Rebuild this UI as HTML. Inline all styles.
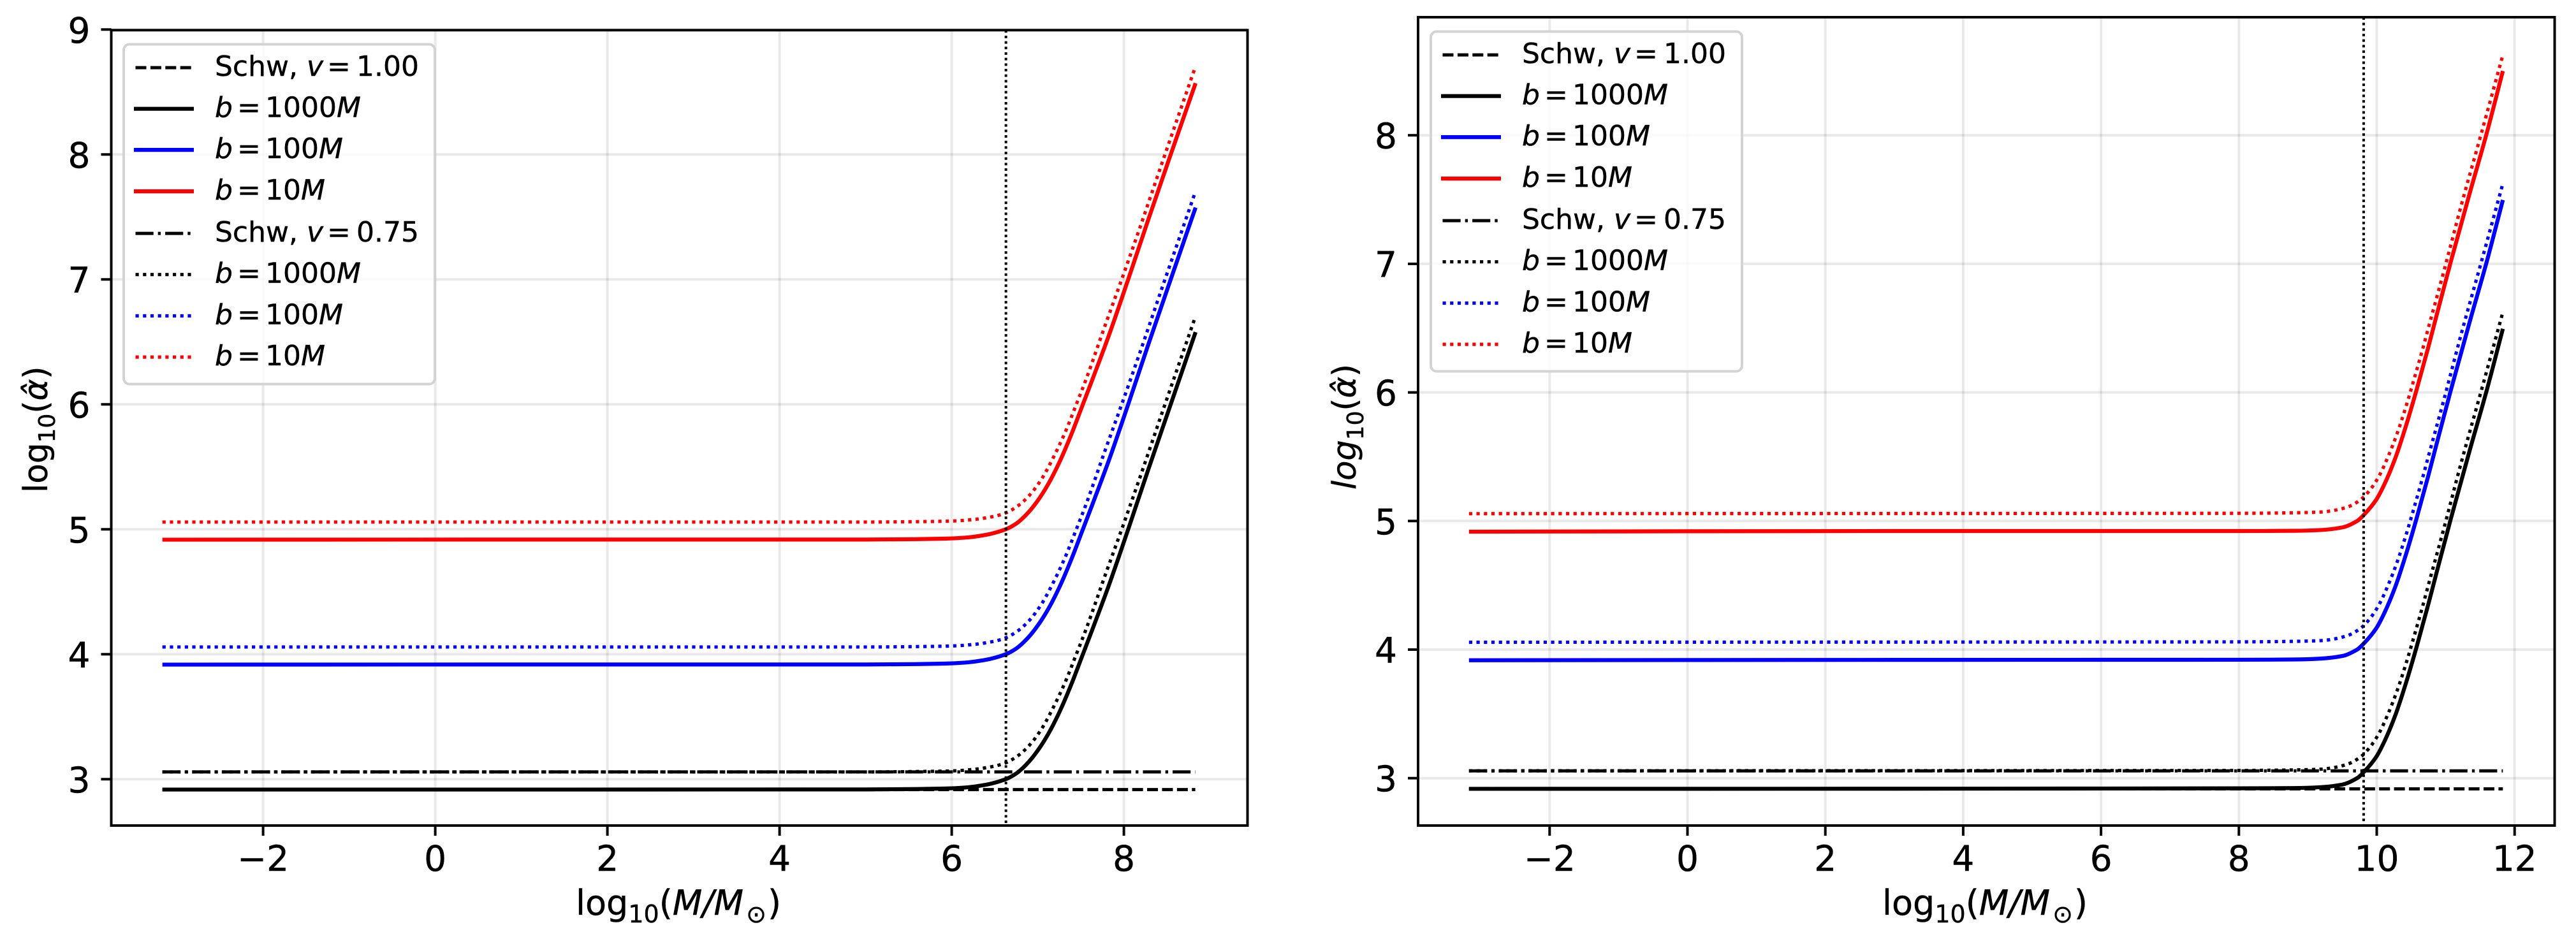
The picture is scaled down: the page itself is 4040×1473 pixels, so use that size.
<!DOCTYPE html>
<html lang="en">
<head>
<meta charset="utf-8">
<title>Deflection angle vs mass</title>
<style>
html,body{margin:0;padding:0;background:#fff;}
svg{display:block;}
text{font-family:"DejaVu Sans","Liberation Sans",sans-serif;fill:#000;stroke:#000;stroke-width:0.45px;}
.it{font-style:italic;}
</style>
</head>
<body>
<svg id="figure" xmlns="http://www.w3.org/2000/svg" width="4040" height="1473" viewBox="0 0 4040 1473">
<rect x="0" y="0" width="4040" height="1473" fill="#fff"/>
<g id="panel-left"></g>
<g id="panel-right"></g>

<text x="903" y="1435" font-size="54">log<tspan font-size="38" dy="12">10</tspan><tspan dy="-12">(</tspan><tspan class="it">M/M</tspan><tspan font-size="38" dy="12" dx="4">⊙</tspan><tspan dy="-12" dx="2">)</tspan></text>
<text x="2952" y="1435" font-size="54">log<tspan font-size="38" dy="12">10</tspan><tspan dy="-12">(</tspan><tspan class="it">M/M</tspan><tspan font-size="38" dy="12" dx="4">⊙</tspan><tspan dy="-12" dx="2">)</tspan></text>
<text transform="translate(74 773) rotate(-90)" font-size="51.5">log<tspan font-size="36" dy="12">10</tspan><tspan dy="-12">(</tspan><tspan class="it">α̂</tspan><tspan>)</tspan></text>
<text transform="translate(2126 768) rotate(-90)" font-size="51"><tspan class="it">log</tspan><tspan font-size="36" dy="12">10</tspan><tspan dy="-12">(</tspan><tspan class="it">α̂</tspan><tspan>)</tspan></text>
</svg>

<script>
// ---------- left panel data ----------
const leftMassSolid = [-3.17, 1, 5, 5.6, 5.91, 6.15, 6.4, 6.62, 6.75, 6.89, 7.02, 7.14, 7.26, 7.39, 7.51, 7.635, 7.83, 8.055, 8.277, 8.524, 8.833];
const leftB1000Solid = [2.917, 2.917, 2.918, 2.921, 2.925, 2.933, 2.956, 2.998, 3.046, 3.135, 3.25, 3.385, 3.55, 3.76, 3.975, 4.2, 4.56, 5.01, 5.465, 5.96, 6.578];
const leftB100Solid = [3.917, 3.918, 3.918, 3.921, 3.925, 3.933, 3.956, 3.998, 4.046, 4.135, 4.25, 4.385, 4.55, 4.76, 4.975, 5.2, 5.56, 6.01, 6.465, 6.96, 7.575];
const leftB10Solid = [4.917, 4.918, 4.918, 4.921, 4.925, 4.933, 4.956, 4.998, 5.046, 5.135, 5.25, 5.385, 5.55, 5.76, 5.975, 6.2, 6.56, 7.01, 7.465, 7.96, 8.57];

const leftMassDotted = [-3.17, 5, 5.7, 6.0, 6.277, 6.5, 6.623, 6.758, 6.894, 7.042, 7.166, 7.314, 7.442, 7.566, 7.771, 7.975, 8.179, 8.455, 8.83];
const leftB1000Dotted = [3.058, 3.058, 3.062, 3.066, 3.08, 3.105, 3.13, 3.182, 3.265, 3.4, 3.555, 3.77, 3.99, 4.21, 4.61, 5.0, 5.4, 5.955, 6.7];
const leftB100Dotted = [4.058, 4.058, 4.062, 4.066, 4.08, 4.105, 4.13, 4.182, 4.265, 4.4, 4.555, 4.77, 4.99, 5.21, 5.61, 6.0, 6.4, 6.955, 7.7];
const leftB10Dotted = [5.058, 5.058, 5.062, 5.066, 5.08, 5.105, 5.13, 5.182, 5.265, 5.4, 5.555, 5.77, 5.99, 6.21, 6.61, 7.0, 7.4, 7.955, 8.7];

const leftSchwMass = [-3.17, 8.83];
const leftSchwV100 = [2.917, 2.917];
const leftSchwV075 = [3.058, 3.058];
const leftMarkerMass = [6.63];
const leftXTicks = [-2, 0, 2, 4, 6, 8];
const leftYTicks = [3, 4, 5, 6, 7, 8, 9];

// ---------- right panel data ----------
const rightMassSolid = [-3.17, 3, 8, 8.8, 9.19, 9.5, 9.715, 9.822, 9.992, 10.115, 10.27, 10.424, 10.578, 10.747, 10.856, 11.071, 11.349, 11.595, 11.83];
const rightB1000Solid = [2.917, 2.918, 2.921, 2.923, 2.93, 2.95, 3.0, 3.053, 3.165, 3.29, 3.49, 3.74, 4.02, 4.35, 4.574, 5.01, 5.55, 6.015, 6.495];
const rightB100Solid = [3.917, 3.92, 3.921, 3.923, 3.93, 3.95, 4.0, 4.053, 4.165, 4.29, 4.49, 4.74, 5.02, 5.35, 5.574, 6.01, 6.55, 7.015, 7.497];
const rightB10Solid = [4.917, 4.922, 4.922, 4.924, 4.93, 4.95, 5.0, 5.053, 5.165, 5.29, 5.49, 5.74, 6.02, 6.35, 6.574, 7.01, 7.55, 8.015, 8.5];

const rightMassDotted = [-3.17, 8, 8.8, 9.2, 9.375, 9.591, 9.776, 9.921, 10.039, 10.172, 10.292, 10.424, 10.548, 10.67, 10.748, 10.98, 11.226, 11.52, 11.83];
const rightB1000Dotted = [3.057, 3.06, 3.064, 3.07, 3.082, 3.112, 3.17, 3.255, 3.355, 3.51, 3.675, 3.89, 4.115, 4.345, 4.5, 4.955, 5.455, 6.02, 6.625];
const rightB100Dotted = [4.057, 4.06, 4.064, 4.07, 4.082, 4.112, 4.17, 4.255, 4.355, 4.51, 4.675, 4.89, 5.115, 5.345, 5.5, 5.955, 6.455, 7.02, 7.625];
const rightB10Dotted = [5.057, 5.06, 5.064, 5.07, 5.082, 5.112, 5.17, 5.255, 5.355, 5.51, 5.675, 5.89, 6.115, 6.345, 6.5, 6.955, 7.455, 8.02, 8.625];

const rightSchwMass = [-3.17, 11.83];
const rightSchwV100 = [2.917, 2.917];
const rightSchwV075 = [3.057, 3.057];
const rightMarkerMass = [9.81];
const rightXTicks = [-2, 0, 2, 4, 6, 8, 10, 12];
const rightYTicks = [3, 4, 5, 6, 7, 8];

// ---------- legend text ----------
const legendLabels = ["Schw|1.00", "1000", "100", "10", "Schw|0.75", "1000", "100", "10"];

// ---------- drawing ----------
const NS = "http://www.w3.org/2000/svg";
const STYLE = {
  solid: {w: 6.2, dash: null},
  dashed: {w: 5, dash: "17 6.4"},
  dashdot: {w: 5, dash: "28.2 7 4.4 7"},
  dotted: {w: 5.2, dash: "5.2 6.5"}
};

function make(tag, parent, attrs, text) {
  const el = document.createElementNS(NS, tag);
  for (const k in attrs) el.setAttribute(k, attrs[k]);
  if (text !== undefined) el.textContent = text;
  parent.appendChild(el);
  return el;
}

function curvePath(xs, ys) {
  const n = xs.length;
  if (n === 2) return "M" + xs[0] + " " + ys[0] + "L" + xs[1] + " " + ys[1];
  const h = [], s = [], m = [];
  for (let i = 0; i < n - 1; i++) {
    h.push(xs[i + 1] - xs[i]);
    s.push((ys[i + 1] - ys[i]) / h[i]);
  }
  m[0] = s[0];
  m[n - 1] = s[n - 2];
  for (let i = 1; i < n - 1; i++) {
    m[i] = s[i - 1] * s[i] > 0 ? 2 * s[i - 1] * s[i] / (s[i - 1] + s[i]) : 0;
  }
  let d = "M" + xs[0].toFixed(2) + " " + ys[0].toFixed(2);
  for (let i = 0; i < n - 1; i++) {
    const c = h[i] / 3;
    d += "C" + (xs[i] + c).toFixed(2) + " " + (ys[i] + m[i] * c).toFixed(2) + " " +
         (xs[i + 1] - c).toFixed(2) + " " + (ys[i + 1] - m[i + 1] * c).toFixed(2) + " " +
         xs[i + 1].toFixed(2) + " " + ys[i + 1].toFixed(2);
  }
  return d;
}

function drawPanel(p) {
  const root = document.getElementById(p.id);
  const px = p.xAxis, py = p.yAxis;

  // grid
  p.xTicks.forEach(function (v) {
    const g = make("line", root, {x1: px(v), x2: px(v), y1: p.top, y2: p.bottom, stroke: "#000", "stroke-opacity": 0.085, "stroke-width": 4});
    
    
  });
  p.yTicks.forEach(function (v) {
    const g = make("line", root, {x1: p.left, x2: p.right, y1: py(v), y2: py(v), stroke: "#000", "stroke-opacity": 0.085, "stroke-width": 4});
    
    
  });

  // series
  p.series.forEach(function (s) {
    const st = STYLE[s.style];
    const attrs = {d: curvePath(s.x.map(px), s.y.map(py)), fill: "none", stroke: s.color, "stroke-width": st.w, "stroke-linejoin": "round"};
    if (st.dash) attrs["stroke-dasharray"] = st.dash;
    const path = make("path", root, attrs);
    
    
  });

  // vertical marker
  const vx = px(p.marker[0]);
  const vline = make("line", root, {x1: vx, x2: vx, y1: p.top, y2: p.bottom, stroke: "#000", "stroke-width": 4, "stroke-dasharray": "4 4.67"});
  
  

  // spines
  const frame = make("rect", root, {x: p.left, y: p.top, width: p.right - p.left, height: p.bottom - p.top, fill: "none", stroke: "#000", "stroke-width": 4});
  
  

  // x ticks
  p.xTicks.forEach(function (v) {
    const t = make("line", root, {x1: px(v), x2: px(v), y1: p.bottom, y2: p.bottom + 16, stroke: "#000", "stroke-width": 4});
    
    
    const label = make("text", root, {x: px(v), y: 1366, "font-size": 55, "text-anchor": "middle"}, String(v).replace("-", "\u2212"));
    
    
  });
  // y ticks
  p.yTicks.forEach(function (v) {
    const t = make("line", root, {x1: p.left - 16, x2: p.left, y1: py(v), y2: py(v), stroke: "#000", "stroke-width": 4});
    
    
    const label = make("text", root, {x: p.left - 33, y: py(v) + 20.5, "font-size": 55, "text-anchor": "end"}, String(v));
    
    
  });

  // legend
  const lg = make("g", root, {});
  
  
  const box = make("rect", lg, {x: p.legX, y: p.legY, width: 488, height: p.legH, rx: 9, ry: 9, fill: "#fff", "fill-opacity": 0.8, stroke: "#d3d3d3", "stroke-width": 4});
  
  
  const rowOffsets = [36.6, 101.2, 165.6, 230.6, 296.6, 361.2, 426, 490.6];
  const rowStyles = ["dashed", "solid", "solid", "solid", "dashdot", "dotted", "dotted", "dotted"];
  const rowColors = ["#000", "#000", "#00f", "#f00", "#000", "#000", "#00f", "#f00"];
  legendLabels.forEach(function (lab, i) {
    const y = p.legY + rowOffsets[i];
    const st = STYLE[rowStyles[i]];
    const hAttrs = {x1: p.legX + 18.5, x2: p.legX + 107, y1: y, y2: y, stroke: rowColors[i], "stroke-width": st.w};
    if (st.dash) hAttrs["stroke-dasharray"] = st.dash;
    if (rowStyles[i] === "solid") { hAttrs.x1 = p.legX + 16; hAttrs.x2 = p.legX + 110; }
    const handle = make("line", lg, hAttrs);
    
    

    const tx = p.legX + 143;
    const text = make("text", lg, {x: tx, y: y + 13, "font-size": 44});
    
    
    if (lab.indexOf("Schw") === 0) {
      const value = lab.split("|")[1];
      make("tspan", text, {}, "Schw,");
      make("tspan", text, {"class": "it", x: tx + 144}, "v");
      make("tspan", text, {x: tx + 176}, "=");
      make("tspan", text, {x: tx + 222}, value);
    } else {
      make("tspan", text, {"class": "it"}, "b");
      make("tspan", text, {x: tx + 35}, "=");
      make("tspan", text, {x: tx + 79}, lab);
      make("tspan", text, {"class": "it"}, "M");
    }
  });
}

drawPanel({
  id: "panel-left", prefix: "left",
  left: 174.5, right: 1956.5, top: 47.3, bottom: 1295,
  legX: 194, legY: 69.5, legH: 533,
  xAxis: function (v) { return 682.6 + 135 * v; },
  yAxis: function (v) { return 1222.3 - 196 * (v - 3); },
  xTicks: leftXTicks, yTicks: leftYTicks, marker: leftMarkerMass,
  series: [
    {name: "schw-v100-line", x: leftSchwMass, y: leftSchwV100, color: "#000", style: "dashed"},
    {name: "b1000-solid-line", x: leftMassSolid, y: leftB1000Solid, color: "#000", style: "solid"},
    {name: "b100-solid-line", x: leftMassSolid, y: leftB100Solid, color: "#00f", style: "solid"},
    {name: "b10-solid-line", x: leftMassSolid, y: leftB10Solid, color: "#f00", style: "solid"},
    {name: "schw-v075-line", x: leftSchwMass, y: leftSchwV075, color: "#000", style: "dashdot"},
    {name: "b1000-dotted-line", x: leftMassDotted, y: leftB1000Dotted, color: "#000", style: "dotted"},
    {name: "b100-dotted-line", x: leftMassDotted, y: leftB100Dotted, color: "#00f", style: "dotted"},
    {name: "b10-dotted-line", x: leftMassDotted, y: leftB10Dotted, color: "#f00", style: "dotted"}
  ]
});

drawPanel({
  id: "panel-right", prefix: "right",
  left: 2224, right: 4006.5, top: 27, bottom: 1295,
  legX: 2244, legY: 49.5, legH: 533,
  xAxis: function (v) { return 2646.5 + 108.1 * v; },
  yAxis: function (v) { return 1220.7 - 201.7 * (v - 3); },
  xTicks: rightXTicks, yTicks: rightYTicks, marker: rightMarkerMass,
  series: [
    {name: "schw-v100-line", x: rightSchwMass, y: rightSchwV100, color: "#000", style: "dashed"},
    {name: "b1000-solid-line", x: rightMassSolid, y: rightB1000Solid, color: "#000", style: "solid"},
    {name: "b100-solid-line", x: rightMassSolid, y: rightB100Solid, color: "#00f", style: "solid"},
    {name: "b10-solid-line", x: rightMassSolid, y: rightB10Solid, color: "#f00", style: "solid"},
    {name: "schw-v075-line", x: rightSchwMass, y: rightSchwV075, color: "#000", style: "dashdot"},
    {name: "b1000-dotted-line", x: rightMassDotted, y: rightB1000Dotted, color: "#000", style: "dotted"},
    {name: "b100-dotted-line", x: rightMassDotted, y: rightB100Dotted, color: "#00f", style: "dotted"},
    {name: "b10-dotted-line", x: rightMassDotted, y: rightB10Dotted, color: "#f00", style: "dotted"}
  ]
});
</script>
</body>
</html>
